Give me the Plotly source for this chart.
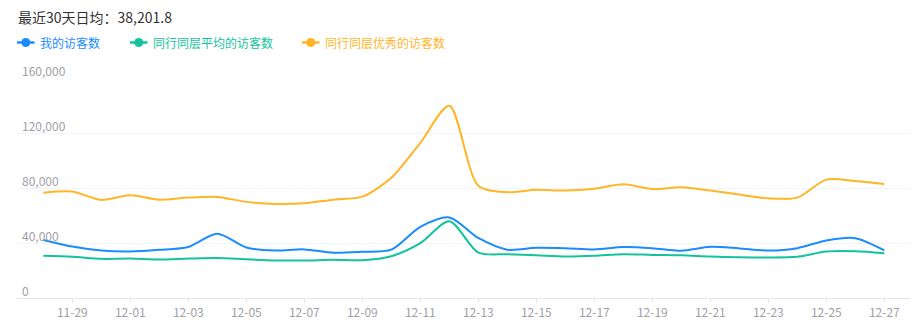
import plotly.graph_objects as go

# 30 days of visitor counts
dates = ["11-28", "11-29", "11-30", "12-01", "12-02", "12-03", "12-04", "12-05",
         "12-06", "12-07", "12-08", "12-09", "12-10", "12-11", "12-12", "12-13",
         "12-14", "12-15", "12-16", "12-17", "12-18", "12-19", "12-20", "12-21",
         "12-22", "12-23", "12-24", "12-25", "12-26", "12-27"]

my_visitors = [42300, 37500, 34600, 33900, 35100, 37200, 46800, 36800, 34600, 35400,
               33000, 33700, 35200, 51800, 58700, 43700, 35200, 36600, 36300, 35400,
               37100, 36300, 34400, 37300, 36100, 34600, 36300, 41900, 43550, 34700]

peer_avg_visitors = [30700, 30000, 28500, 28700, 28000, 28700, 29200, 28200, 27300, 27300,
                     27800, 27500, 30400, 39900, 55900, 33100, 31900, 31100, 30200, 30700,
                     31900, 31400, 31100, 30200, 29700, 29500, 30000, 33800, 34000, 32600]

peer_top_visitors = [76700, 77500, 71400, 74800, 71600, 73100, 73600, 70000, 68500, 69000,
                     71600, 73800, 87500, 113000, 140000, 81800, 77000, 78900, 78200, 79600,
                     82800, 79400, 80600, 78200, 75300, 72600, 73100, 86200, 85200, 83000]

series_names = ["我的访客数", "同行同层平均的访客数", "同行同层优秀的访客数"]
series_colors = ["#1a8cff", "#14c39d", "#ffb526"]
series_values = [my_visitors, peer_avg_visitors, peer_top_visitors]

y_ticks = [0, 40000, 80000, 120000, 160000]
x_tick_labels = dates[1::2]

title_text = "最近30天日均：38,201.8"

FONT = "Noto Sans CJK SC, Noto Sans, sans-serif"
W, H = 920, 332
ML, MR, MT, MB = 17, 10, 78, 34
PW, PH = W - ML - MR, H - MT - MB


def px_to_paper_x(px):
    return (px - ML) / PW


def px_to_paper_y(py):
    return (H - MB - py) / PH


fig = go.Figure()

# draw the top series first so the lower lines sit above it
for name, color, vals in reversed(list(zip(series_names, series_colors, series_values))):
    fig.add_trace(go.Scatter(
        x=dates, y=vals, name=name, mode="lines",
        line=dict(color=color, width=2, shape="spline", smoothing=0.8),
        showlegend=False, hoverinfo="x+y+name",
    ))

# hand-built legend row: short line icon with a dot, then coloured label
legend_starts = [17, 130, 302]
shapes = []
annotations = []
leg_y = 42.5
for start, name, color in zip(legend_starts, series_names, series_colors):
    shapes.append(dict(type="line", xref="paper", yref="paper",
                       x0=px_to_paper_x(start), x1=px_to_paper_x(start + 17.5),
                       y0=px_to_paper_y(leg_y), y1=px_to_paper_y(leg_y),
                       line=dict(color=color, width=2.5)))
    shapes.append(dict(type="circle", xref="paper", yref="paper",
                       xsizemode="pixel", ysizemode="pixel",
                       xanchor=px_to_paper_x(start + 8.75), yanchor=px_to_paper_y(leg_y),
                       x0=-4.5, x1=4.5, y0=-4.5, y1=4.5,
                       fillcolor=color, line=dict(color=color, width=0)))
    annotations.append(dict(text=name, xref="paper", yref="paper",
                            x=px_to_paper_x(start + 21), y=px_to_paper_y(leg_y),
                            xanchor="left", yanchor="middle", showarrow=False,
                            font=dict(family=FONT, size=12, color=color)))

# y-axis value labels sit just above their grid lines, flush left
for v in y_ticks:
    annotations.append(dict(text=f"{v:,}", xref="paper", yref="y",
                            x=px_to_paper_x(20), y=v, yshift=7.5,
                            xanchor="left", yanchor="middle", showarrow=False,
                            font=dict(family=FONT, size=12, color="#a0a0a8")))

annotations.append(dict(text=title_text, xref="paper", yref="paper",
                        x=px_to_paper_x(16), y=px_to_paper_y(16.5),
                        xanchor="left", yanchor="middle", showarrow=False,
                        font=dict(family=FONT, size=14, color="#333333")))

fig.update_layout(
    width=W, height=H,
    margin=dict(l=ML, r=MR, t=MT, b=MB, pad=0),
    paper_bgcolor="white", plot_bgcolor="white",
    font=dict(family=FONT, size=12, color="#999999"),
    shapes=shapes, annotations=annotations,
    showlegend=False,
    xaxis=dict(
        type="category", categoryorder="array", categoryarray=dates,
        range=[-0.907, 29.886],
        tickmode="array", tickvals=x_tick_labels, ticktext=x_tick_labels,
        showgrid=False, zeroline=False,
        showline=True, linecolor="#e0e6f1", linewidth=1,
        ticks="outside", ticklen=4, tickcolor="#e0e6f1", tickwidth=1,
        tickfont=dict(family=FONT, size=12, color="#a0a0a8"),
        fixedrange=True,
    ),
    yaxis=dict(
        range=[0, 160200],
        tickmode="array", tickvals=y_ticks,
        showticklabels=False,
        showgrid=True, gridcolor="#f3f4f8", gridwidth=1,
        zeroline=False, showline=False, ticks="",
        fixedrange=True,
    ),
)

fig.write_html("out.html")
